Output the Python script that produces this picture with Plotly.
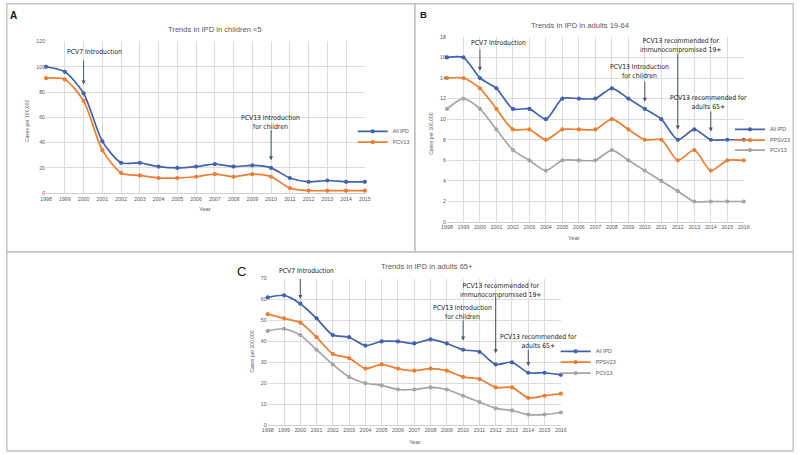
import plotly.graph_objects as go

W, H = 800, 455

# ---- data ----
years_a = list(range(1998, 2016))
years_bc = list(range(1998, 2017))

a_all_ipd = [100, 96, 79, 41, 24, 24, 21, 20, 21, 23, 21, 22, 20, 12, 9, 10, 9, 9]
a_pcv13 = [91, 90, 73, 34, 16, 14, 12, 12, 13, 15, 13, 15, 13, 4, 2, 2, 2, 2]

b_all_ipd = [16, 16, 14, 13, 11, 11, 10, 12, 12, 12, 13, 12, 11, 10, 8, 9, 8, 8, 8]
b_ppsv23 = [14, 14, 13, 11, 9, 9, 8, 9, 9, 9, 10, 9, 8, 8, 6, 7, 5, 6, 6]
b_pcv13 = [11, 12, 11, 9, 7, 6, 5, 6, 6, 6, 7, 6, 5, 4, 3, 2, 2, 2, 2]

c_all_ipd = [61, 62, 58, 51, 43, 42, 38, 40, 40, 39, 41, 39, 36, 35, 29, 30, 25, 25, 24]
c_ppsv23 = [53, 51, 49, 42, 34, 32, 27, 29, 27, 26, 27, 26, 23, 22, 18, 18, 13, 14, 15]
c_pcv13 = [45, 46, 43, 36, 29, 23, 20, 19, 17, 17, 18, 17, 14, 11, 8, 7, 5, 5, 6]

BLUE = "#4262AC"
ORANGE = "#ED7D31"
GRAY = "#A5A5A5"
TXT = "#595959"
NOTE_FONT = "Liberation Sans Narrow, DejaVu Sans Condensed, Arial Narrow, sans-serif"


def px(x):
    return x / W


def py(y):
    return 1 - y / H


fig = go.Figure()

# one legend per entry so the entries can sit as tight as in the original
legend_spots = {}


def add_series(x, y, name, color, ax, legend, spot):
    legend_spots[legend] = spot
    fig.add_trace(go.Scatter(
        x=x, y=y, name=name, mode="lines+markers",
        line=dict(color=color, width=1.7, shape="spline", smoothing=0.7),
        marker=dict(color=color, size=4.2),
        xaxis="x" + ax, yaxis="y" + ax, legend=legend, cliponaxis=False))


add_series(years_a, a_all_ipd, "All IPD", BLUE, "", "legend", (352, 130))
add_series(years_a, a_pcv13, "PCV13", ORANGE, "", "legend2", (352, 141))
add_series(years_bc, b_all_ipd, "All IPD", BLUE, "2", "legend3", (735, 128))
add_series(years_bc, b_ppsv23, "PPSV23", ORANGE, "2", "legend4", (735, 139))
add_series(years_bc, b_pcv13, "PCV13", GRAY, "2", "legend5", (735, 149))
add_series(years_bc, c_all_ipd, "All IPD", BLUE, "3", "legend6", (558, 353))
add_series(years_bc, c_ppsv23, "PPSV23", ORANGE, "3", "legend7", (558, 364))
add_series(years_bc, c_pcv13, "PCV13", GRAY, "3", "legend8", (558, 375))

grid = dict(showgrid=True, gridcolor="#dcdcdc", gridwidth=1, zeroline=False,
            ticks="", tickfont=dict(size=5.3, color=TXT), tickmode="linear")

xa = dict(grid, domain=[px(40.7), px(364.3)], range=[1998, 2015], dtick=1,
          anchor="y", showline=True, linecolor="#d0d0d0")
ya = dict(grid, domain=[py(192.7), py(39)], range=[0, 120], dtick=20, anchor="x")
xb = dict(grid, domain=[px(447.7), px(749)], range=[1998, 2016], dtick=1,
          anchor="y2", showline=True, linecolor="#d0d0d0")
yb = dict(grid, domain=[py(222), py(34.3)], range=[0, 18], dtick=2, anchor="x2")
xc = dict(grid, domain=[px(265.7), px(563.3)], range=[1998, 2016], dtick=1,
          anchor="y3", showline=True, linecolor="#d0d0d0")
yc = dict(grid, domain=[py(427.7), py(279.3)], range=[0, 70], dtick=10, anchor="x3")

annotations = []


def text(x, y, s, size=6.8, color="#1a1a1a", font=NOTE_FONT, **kw):
    annotations.append(dict(x=px(x), y=py(y), xref="paper", yref="paper",
                            text=s, showarrow=False, xanchor="center", yanchor="middle",
                            font=dict(size=size, color=color, family=font), **kw))


def arrow(ax, x, y_tail, y_head):
    annotations.append(dict(x=x, y=y_head, ax=x, ay=y_tail, xref="x" + ax, yref="y" + ax,
                            axref="x" + ax, ayref="y" + ax, text="", showarrow=True,
                            arrowhead=2, arrowsize=0.8, arrowwidth=1, arrowcolor="#44546A"))


# panel letters
text(8, 13, "<b>A</b>", size=10, color="#111", font="Arial, sans-serif")
text(424, 12, "<b>B</b>", size=9.5, color="#111", font="Arial, sans-serif")
text(239, 272, "C", size=13, color="#111", font="Arial, sans-serif")

# chart titles
text(212, 27, "Trends in IPD in children <5", size=7.6, color=TXT, font="Arial, sans-serif")
text(583, 23, "Trends in IPD in adults 19-64", size=7.6, color=TXT, font="Arial, sans-serif")
text(427, 267, "Trends in IPD in adults 65+", size=7.6, color=TXT, font="Arial, sans-serif")

# axis titles
for x, y in [(22, 120), (432, 133), (250, 353)]:
    text(x, y, "Cases per 100,000", size=5, color=TXT, font="Arial, sans-serif", textangle=-90)
for x, y in [(202, 209), (577, 238), (415, 445)]:
    text(x, y, "Year", size=5.8, color=TXT, font="Arial, sans-serif")

# panel A notes
text(90, 50, "PCV7 Introduction")
arrow("", 2000, 106, 86)
text(269, 121, "PCV13 Introduction<br>for children")
arrow("", 2010, 51, 26)

# panel B notes
text(500, 41, "PCV7 Introduction")
arrow("2", 2000, 16.9, 14.7)
text(643, 69, "PCV13 Introduction<br>for children")
arrow("2", 2010, 13.8, 11.7)
text(685, 43, "PCV13 recommended for<br>immunocompromised 19+")
arrow("2", 2012, 16.5, 9.0)
text(713, 101, "PCV13 recommended for<br>adults 65+")
arrow("2", 2014, 10.9, 8.8)

# panel C notes
text(305, 272, "PCV7 Introduction")
arrow("3", 2000, 70.6, 60.2)
text(503, 291, "PCV13 recommended for<br>immunocompromised 19+")
arrow("3", 2012, 62.1, 34.3)
text(463, 314, "PCV13 Introduction<br>for children")
arrow("3", 2010, 50.8, 40.4)
text(541, 343, "PCV13 recommended for<br>adults 65+")
arrow("3", 2014, 36.7, 28.2)

# panel frames
frame = dict(type="rect", xref="paper", yref="paper", line=dict(color="#c4c4c4", width=1.5))
shapes = [
    dict(frame, x0=px(0.8), x1=px(415), y0=py(252), y1=py(0.8)),
    dict(frame, x0=px(415), x1=px(799.2), y0=py(252), y1=py(0.8)),
    dict(frame, x0=px(0.8), x1=px(799.2), y0=py(454), y1=py(252)),
]

leg = dict(xanchor="left", yanchor="middle", font=dict(size=5.3, color=TXT),
           itemwidth=30, bgcolor="rgba(0,0,0,0)")
legends = {k: dict(leg, x=px(sx), y=py(sy)) for k, (sx, sy) in legend_spots.items()}

fig.update_layout(
    width=W, height=H, margin=dict(l=0, r=0, t=0, b=0),
    paper_bgcolor="white", plot_bgcolor="white",
    font=dict(family="Arial, sans-serif", color=TXT),
    xaxis=xa, yaxis=ya, xaxis2=xb, yaxis2=yb, xaxis3=xc, yaxis3=yc,
    annotations=annotations, shapes=shapes,
    showlegend=True,
    **legends,
)

# drop the browser's default page margin so the figure sits at the window corner
fig.write_html("out.html", config={"displayModeBar": False},
               post_script="document.body.style.margin='0';")
